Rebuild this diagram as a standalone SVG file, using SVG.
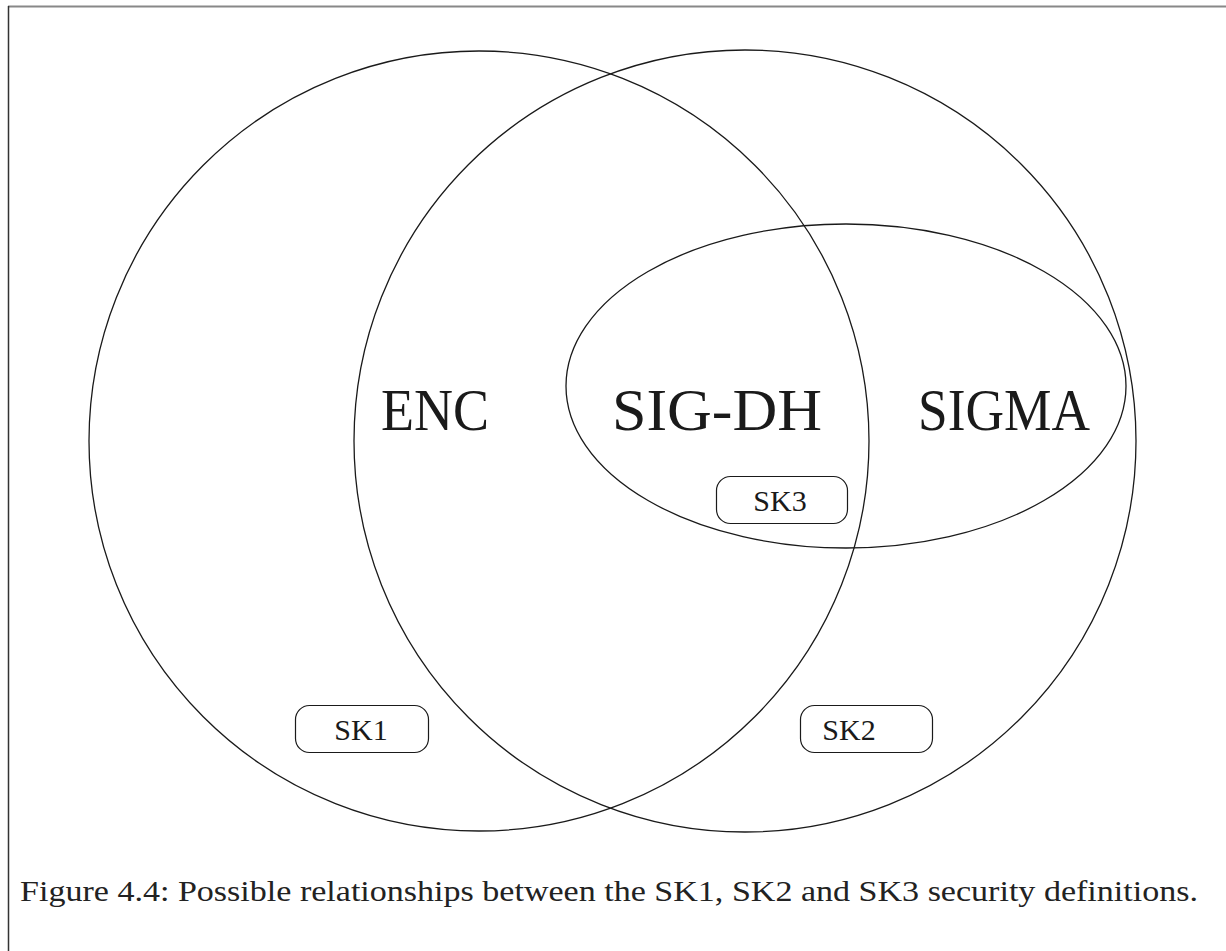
<svg xmlns="http://www.w3.org/2000/svg" width="1226" height="951" viewBox="0 0 1226 951">
<style>
.sh{fill:none;stroke:#1a1a1a;stroke-width:1.3}
.box{fill:#fff;stroke:#1a1a1a;stroke-width:1.2}
text{font-family:'Liberation Serif','Times New Roman',Times,serif;fill:#1a1a1a}
.big{font-size:60px}
.sk{font-size:30px;text-anchor:middle}
.cap{font-size:30px;fill:#222}
</style>
<rect width="1226" height="951" fill="#fff"/>
<g id="frame">
<line x1="8" y1="6.5" x2="1226" y2="6.5" stroke="#888" stroke-width="2"/>
<line x1="8.5" y1="6" x2="8.5" y2="951" stroke="#333" stroke-width="1.5"/>
</g>
<g id="enc-set"><circle class="sh" cx="479" cy="441" r="390"/></g>
<g id="sigma-set"><circle class="sh" cx="745" cy="441" r="391"/></g>
<g id="sigdh-set"><ellipse class="sh" cx="846" cy="386" rx="280" ry="162"/></g>
<g id="labels">
<text class="big" x="381" y="430" textLength="108" lengthAdjust="spacingAndGlyphs">ENC</text>
<text class="big" x="612" y="430" textLength="210" lengthAdjust="spacingAndGlyphs">SIG-DH</text>
<text class="big" x="918" y="430" textLength="172" lengthAdjust="spacingAndGlyphs">SIGMA</text>
</g>
<g id="sk1"><rect class="box" x="295.5" y="705.5" width="133" height="47" rx="14"/><text class="sk" x="361" y="740">SK1</text></g>
<g id="sk2"><rect class="box" x="800.5" y="705.5" width="132" height="47" rx="14"/><text class="sk" x="849" y="740">SK2</text></g>
<g id="sk3"><rect class="box" x="716.5" y="476.5" width="131" height="47" rx="14"/><text class="sk" x="780" y="511">SK3</text></g>
<g id="connectors"></g>
<text class="cap" x="20" y="901" textLength="1178" lengthAdjust="spacingAndGlyphs">Figure 4.4: Possible relationships between the SK1, SK2 and SK3 security definitions.</text>
</svg>
